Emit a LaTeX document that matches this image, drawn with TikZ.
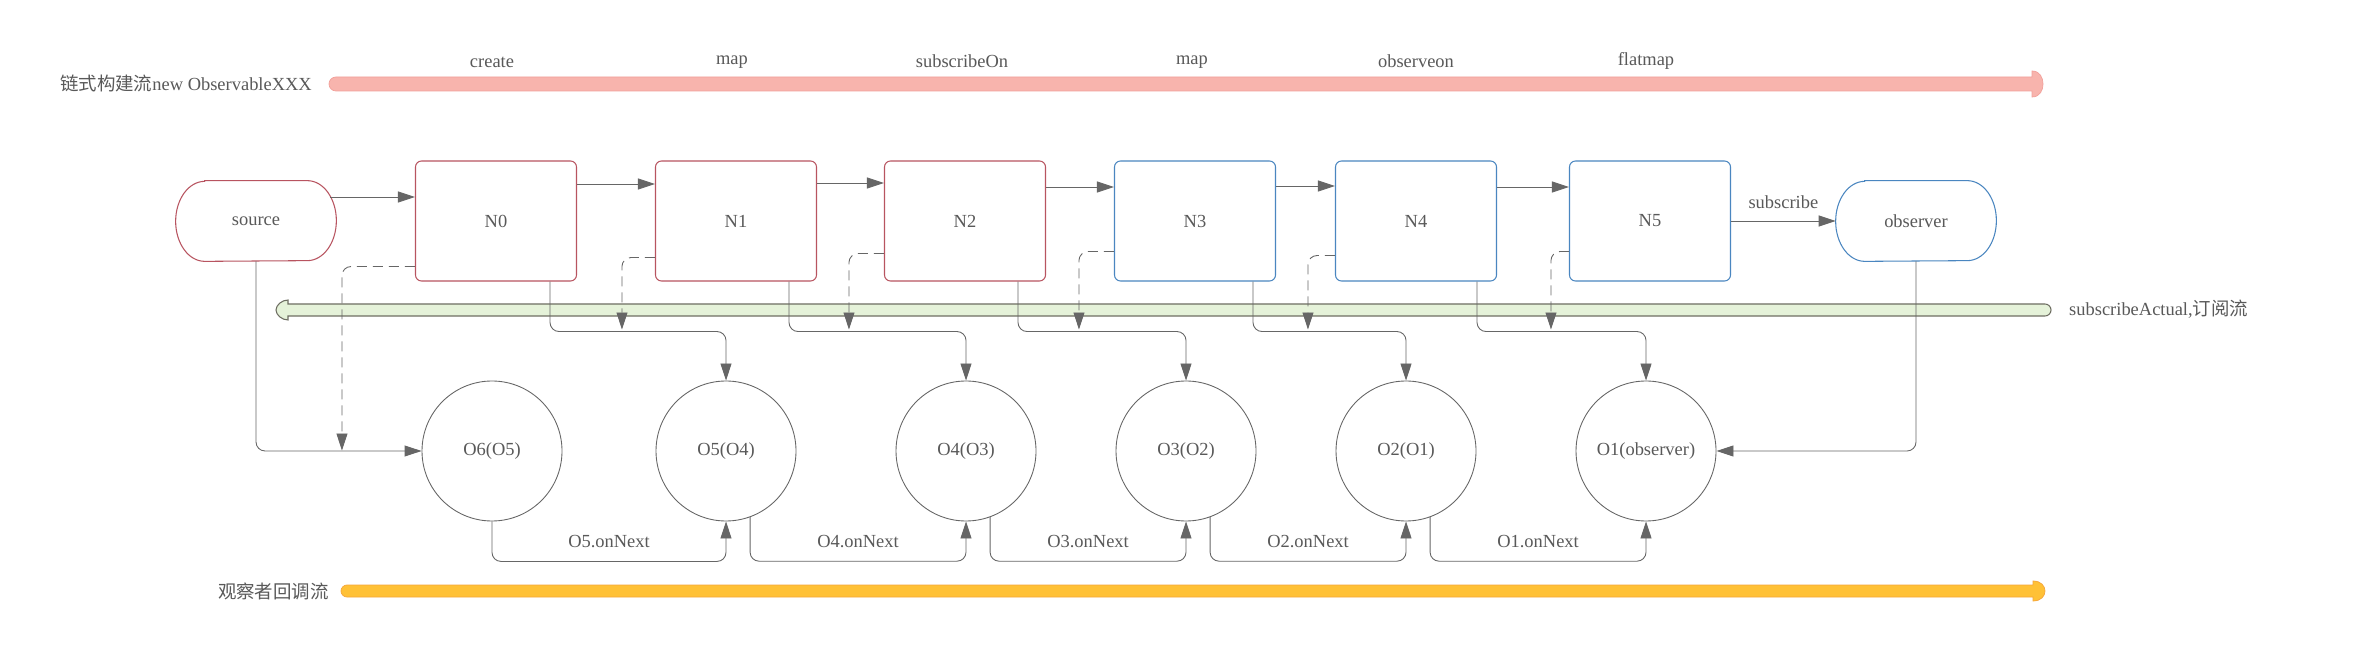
\documentclass[tikz,border=0pt]{standalone}
\usepackage{fontspec}
\setmainfont{Liberation Serif}
\newfontfamily\cjk{Noto Sans CJK SC}
\usetikzlibrary{arrows.meta}
\definecolor{txtgray}{HTML}{595959}
\definecolor{linegray}{HTML}{666666}
\definecolor{redline}{HTML}{B85460}
\definecolor{blueline}{HTML}{4A86C0}
\definecolor{redbar}{HTML}{F8B4AD}
\definecolor{redbarline}{HTML}{F2A09A}
\definecolor{greenbar}{HTML}{E5F2D9}
\definecolor{greenbarline}{HTML}{6E6E62}
\definecolor{orangebar}{HTML}{FFC136}
\definecolor{orangebarline}{HTML}{F5A53A}
\begin{document}
\begin{tikzpicture}[x=0.2mm,y=-0.2mm,
  every node/.style={text=txtgray,font=\fontsize{10.5}{12}\selectfont},
  conn/.style={draw=linegray,line width=0.5pt,rounded corners=1.8mm},
  arr/.style={conn,-{Triangle[length=3.4mm,width=2.2mm]}},
  darr/.style={arr,dash pattern=on 2mm off 1.2mm},
  nbox/.style={draw=#1,line width=0.6pt,rounded corners=1.2mm,minimum width=32.2mm,minimum height=24mm},
  endbox/.style={minimum width=32mm,minimum height=16mm},
  endline/.style={draw=#1,line width=0.6pt},
  obs/.style={draw=linegray,line width=0.5pt,circle,minimum size=28mm,inner sep=0pt}]
\useasboundingbox[fill=white] (0,0) rectangle (2376,661);
% flow bars
\filldraw[fill=redbar,draw=redbarline,line width=0.4pt] (2032,77) -- (336,77) arc[start angle=-90,end angle=-270,radius=7] -- (2032,91) -- (2032,97) .. controls (2040,97) and (2043,90) .. (2043,84) .. controls (2043,78) and (2040,71) .. (2032,71) -- cycle;
\filldraw[fill=greenbar,draw=greenbarline,line width=0.6pt] (288,304) -- (2045,304) arc[start angle=-90,end angle=90,radius=6] -- (288,316) -- (288,320) .. controls (282,320) and (276,315) .. (276,310) .. controls (276,305) and (282,300) .. (288,300) -- cycle;
\filldraw[fill=orangebar,draw=orangebarline,line width=0.4pt] (2033,585) -- (347,585) arc[start angle=-90,end angle=-270,radius=6] -- (2033,597) -- (2033,601) .. controls (2041,601) and (2045,596) .. (2045,591) .. controls (2045,586) and (2041,581) .. (2033,581) -- cycle;
\node[anchor=east] (buildlbl) at (318,83) {{\cjk 链式构建流}new ObservableXXX};
\node[anchor=west] (sublbl) at (2063,309) {subscribeActual,{\cjk 订阅流}};
\node[anchor=east] (cblbl) at (335,591) {{\cjk 观察者回调流}};
\node (create) at (492,62) {create};
\node (map1) at (732,62) {map};
\node (subon) at (962,61) {subscribeOn};
\node (map2) at (1192,62) {map};
\node (obson) at (1416,61) {observeon};
\node (flat) at (1646,61) {flatmap};
% nodes
\node[endbox] (source) at (256,221) {source};
\draw[endline=redline] ([xshift=5.8mm]source.north west) -- ([xshift=-5.8mm]source.north east) arc[start angle=-90,end angle=90,x radius=29,y radius=40] -- ([xshift=5.8mm]source.south west) arc[start angle=90,end angle=270,x radius=29,y radius=40] -- cycle;
\node[nbox=redline] (N0) at (496,221) {N0};
\node[nbox=redline] (N1) at (736,221) {N1};
\node[nbox=redline] (N2) at (965,221) {N2};
\node[nbox=blueline] (N3) at (1195,221) {N3};
\node[nbox=blueline] (N4) at (1416,221) {N4};
\node[nbox=blueline] (N5) at (1650,221) {N5};
\node[endbox] (observer) at (1916,221) {observer};
\draw[endline=blueline] ([xshift=5.8mm]observer.north west) -- ([xshift=-5.8mm]observer.north east) arc[start angle=-90,end angle=90,x radius=29,y radius=40] -- ([xshift=5.8mm]observer.south west) arc[start angle=90,end angle=270,x radius=29,y radius=40] -- cycle;
\node[obs] (O6) at (492,451) {O6(O5)};
\node[obs] (O5) at (726,451) {O5(O4)};
\node[obs] (O4) at (966,451) {O4(O3)};
\node[obs] (O3) at (1186,451) {O3(O2)};
\node[obs] (O2) at (1406,451) {O2(O1)};
\node[obs] (O1) at (1646,451) {O1(observer)};
% chain
\draw[arr] ([shift={(-6,-24)}]source.east) -- ([shift={(0,-24)}]N0.west);
\draw[arr] ([shift={(0,-37)}]N0.east) -- ([shift={(0,-37)}]N1.west);
\draw[arr] ([shift={(0,-38)}]N1.east) -- ([shift={(0,-38)}]N2.west);
\draw[arr] ([shift={(0,-34)}]N2.east) -- ([shift={(0,-34)}]N3.west);
\draw[arr] ([shift={(0,-35)}]N3.east) -- ([shift={(0,-35)}]N4.west);
\draw[arr] ([shift={(0,-34)}]N4.east) -- ([shift={(0,-34)}]N5.west);
\draw[arr] (N5.east) -- node[above=1.3mm]{subscribe} (observer.west);
% subscribe
\draw[arr] ([shift={(-27,0)}]N0.south east) -- ++(0,50) -| (O5.north);
\draw[arr] ([shift={(-28,0)}]N1.south east) -- ++(0,50) -| (O4.north);
\draw[arr] ([shift={(-28,0)}]N2.south east) -- ++(0,50) -| (O3.north);
\draw[arr] ([shift={(-23,0)}]N3.south east) -- ++(0,50) -| (O2.north);
\draw[arr] ([shift={(-20,0)}]N4.south east) -- ++(0,50) -| (O1.north);
\draw[darr] ([shift={(0,-15)}]N0.south west) -| ++(-73,184);
\draw[darr] ([shift={(0,-24)}]N1.south west) -| ++(-33,72);
\draw[darr] ([shift={(0,-28)}]N2.south west) -| ++(-35,76);
\draw[darr] ([shift={(0,-30)}]N3.south west) -| ++(-35,78);
\draw[darr] ([shift={(0,-26)}]N4.south west) -| ++(-27,74);
\draw[darr] ([shift={(0,-30)}]N5.south west) -| ++(-18,78);
\draw[arr] (source.south) |- (O6.west);
\draw[arr] (observer.south) |- (O1.east);
% callbacks
\draw[arr] (O6.south) -- ++(0,40) -| node[pos=0.25,above=1.5mm]{O5.onNext} (O5.south);
\draw[arr] (O5.290) -- ++(0,44) -| node[pos=0.25,above=1.5mm]{O4.onNext} (O4.south);
\draw[arr] (O4.290) -- ++(0,44) -| node[pos=0.25,above=1.5mm]{O3.onNext} (O3.south);
\draw[arr] (O3.290) -- ++(0,44) -| node[pos=0.25,above=1.5mm]{O2.onNext} (O2.south);
\draw[arr] (O2.290) -- ++(0,44) -| node[pos=0.25,above=1.5mm]{O1.onNext} (O1.south);
\end{tikzpicture}
\end{document}
